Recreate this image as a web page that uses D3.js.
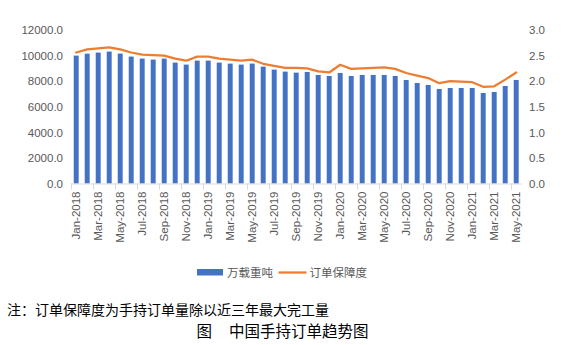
<!DOCTYPE html>
<html>
<head>
<meta charset="utf-8">
<script src="https://cdn.jsdelivr.net/npm/d3@7"></script>
<style>
  html, body { margin: 0; padding: 0; background: #fff; }
  svg { display: block; font-family: "Liberation Sans", Arial, sans-serif; }
  .cjk { font-family: "Noto Sans CJK SC", "Liberation Sans", sans-serif; }
</style>
</head>
<body>
<svg id="chart" width="565" height="345"></svg>
<script>
const months = ["Jan-2018","Feb-2018","Mar-2018","Apr-2018","May-2018","Jun-2018","Jul-2018","Aug-2018","Sep-2018","Oct-2018","Nov-2018","Dec-2018",
  "Jan-2019","Feb-2019","Mar-2019","Apr-2019","May-2019","Jun-2019","Jul-2019","Aug-2019","Sep-2019","Oct-2019","Nov-2019","Dec-2019",
  "Jan-2020","Feb-2020","Mar-2020","Apr-2020","May-2020","Jun-2020","Jul-2020","Aug-2020","Sep-2020","Oct-2020","Nov-2020","Dec-2020",
  "Jan-2021","Feb-2021","Mar-2021","Apr-2021","May-2021"];
const tonnage = [10000,10150,10235,10313,10157,9922,9765,9687,9765,9452,9295,9608,
  9608,9452,9373,9295,9373,9138,8903,8747,8668,8721,8486,8407,
  8642,8407,8486,8486,8486,8407,8094,7859,7702,7389,7467,7467,
  7467,7076,7154,7624,8094];
const coverage = [2.56,2.62,2.64,2.66,2.62,2.56,2.52,2.51,2.50,2.44,2.40,2.48,
  2.48,2.44,2.42,2.40,2.42,2.34,2.30,2.26,2.26,2.25,2.19,2.17,
  2.32,2.24,2.25,2.26,2.27,2.24,2.16,2.11,2.06,1.96,2.00,1.99,
  1.98,1.89,1.90,2.03,2.17];
const leftTicks = [0,2000,4000,6000,8000,10000,12000];
const rightTicks = [0,0.5,1.0,1.5,2.0,2.5,3.0];
const seriesNames = ["万载重吨","订单保障度"];
const noteText = "注：订单保障度为手持订单量除以近三年最大完工量";
const titleLead = "图";
const titleMain = "中国手持订单趋势图";

const svg = d3.select("#chart");
const x = d3.scaleBand().domain(months).range([70.7, 521.7]).paddingInner(0.55).paddingOuter(0.275);
const yL = d3.scaleLinear().domain([0, 12000]).range([183.5, 30]);
const yR = d3.scaleLinear().domain([0, 3]).range([183.5, 30]);
const step = x.step();
const gap = step - x.bandwidth();

// bars
svg.append("g").selectAll("rect").data(months).join("rect")
  .attr("x", d => x(d)).attr("width", x.bandwidth())
  .attr("y", (d,i) => yL(tonnage[i])).attr("height", (d,i) => yL(0) - yL(tonnage[i]))
  .attr("fill", "#4472C4");

// x axis line
svg.append("line").attr("x1", x.range()[0]).attr("x2", x.range()[1])
  .attr("y1", yL(0) + 0.5).attr("y2", yL(0) + 0.5).attr("stroke", "#d9d9d9").attr("stroke-width", 1);
// tick marks at category boundaries, every 2 categories
svg.append("g").selectAll("line").data(months.filter((d,i) => i % 2 === 0)).join("line")
  .attr("x1", d => Math.round(x(d) - gap/2) + 0.5).attr("x2", d => Math.round(x(d) - gap/2) + 0.5)
  .attr("y1", yL(0)).attr("y2", yL(0) + 6).attr("stroke", "#d9d9d9");

// x labels
const xAxis = d3.axisBottom(x).tickValues(months.filter((d,i) => i % 2 === 0)).tickSize(0);
const gx = svg.append("g").attr("transform", `translate(0,${yL(0)})`).call(xAxis);
gx.select(".domain").remove();
gx.selectAll("text")
  .attr("transform", "rotate(-90)")
  .attr("x", -8).attr("y", 0).attr("dy", "0.35em")
  .attr("text-anchor", "end")
  .attr("fill", "#595959").style("font-size", "11.5px").style("font-family", "Liberation Sans, Arial, sans-serif");

// left axis
const gl = svg.append("g").attr("transform", "translate(63,0)")
  .call(d3.axisLeft(yL).tickValues(leftTicks).tickFormat(d3.format(".1f")).tickSize(0));
gl.select(".domain").remove();
gl.selectAll("text").attr("fill", "#595959").attr("x", 0).style("font-size", "11.5px").style("font-family", "Liberation Sans, Arial, sans-serif");

// right axis
const gr = svg.append("g").attr("transform", "translate(529,0)")
  .call(d3.axisRight(yR).tickValues(rightTicks).tickFormat(d3.format(".1f")).tickSize(0));
gr.select(".domain").remove();
gr.selectAll("text").attr("fill", "#595959").attr("x", 0).style("font-size", "11.5px").style("font-family", "Liberation Sans, Arial, sans-serif");

// line
const line = d3.line().x((d,i) => x(months[i]) + x.bandwidth()/2).y(d => yR(d));
svg.append("path").datum(coverage).attr("d", line)
  .attr("fill", "none").attr("stroke", "#ED7D31").attr("stroke-width", 2.25)
  .attr("stroke-linejoin", "round").attr("stroke-linecap", "round");

// legend
const lg = svg.append("g");
lg.append("rect").attr("x", 197).attr("y", 269).attr("width", 26).attr("height", 6.5).attr("fill", "#4472C4");
lg.append("text").attr("class", "cjk").attr("x", 227).attr("y", 272.5).attr("dy", "0.35em")
  .attr("fill", "#595959").style("font-size", "11.5px").text(seriesNames[0]);
lg.append("line").attr("x1", 278.5).attr("x2", 306.5).attr("y1", 272.5).attr("y2", 272.5)
  .attr("stroke", "#ED7D31").attr("stroke-width", 2.25);
lg.append("text").attr("class", "cjk").attr("x", 309.5).attr("y", 272.5).attr("dy", "0.35em")
  .attr("fill", "#595959").style("font-size", "11.5px").text(seriesNames[1]);

// note and title
svg.append("text").attr("class", "cjk").attr("x", 7).attr("y", 315).attr("fill", "#000")
  .style("font-size", "14px").text(noteText);
svg.append("text").attr("class", "cjk").attr("x", 196.5).attr("y", 337).attr("fill", "#000")
  .style("font-size", "15.5px").text(titleLead);
svg.append("text").attr("class", "cjk").attr("x", 229).attr("y", 337).attr("fill", "#000")
  .style("font-size", "15.5px").text(titleMain);
</script>
</body>
</html>
